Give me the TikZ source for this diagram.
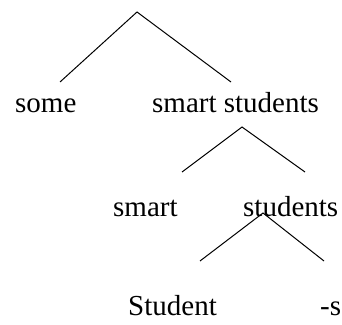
\documentclass[tikz,border=0pt]{standalone}
\usepackage{fontspec}
\setmainfont{Liberation Serif}
\begin{document}
\begin{tikzpicture}[x=1pt,y=1pt,
  word/.style={inner sep=0pt,anchor=base west,font=\fontsize{29}{34}\selectfont},
  branch/.style={line width=1pt,black}]
\useasboundingbox (0,0) rectangle (342,324);
% first level
\coordinate (r0) at (137,312);
\coordinate (r0l) at (60,242);
\coordinate (r0r) at (231,242);
\draw[branch] (r0l) -- (r0) -- (r0r);
\node[word] (some) at (15,211) {some};
\node[word] (ss) at (152,211) {smart students};
% second level
\coordinate (r1) at (242,197);
\coordinate (r1l) at (182,152);
\coordinate (r1r) at (305,152);
\draw[branch] (r1l) -- (r1) -- (r1r);
\node[word] (smart) at (113,108) {smart};
\node[word] (students) at (243,108) {students};
% third level
\coordinate (r2) at (263,111);
\coordinate (r2l) at (200,63);
\coordinate (r2r) at (324,63);
\draw[branch] (r2l) -- (r2) -- (r2r);
\node[word] (student) at (128,9) {Student};
\node[word] (s) at (320,9) {-s};
\end{tikzpicture}
\end{document}
